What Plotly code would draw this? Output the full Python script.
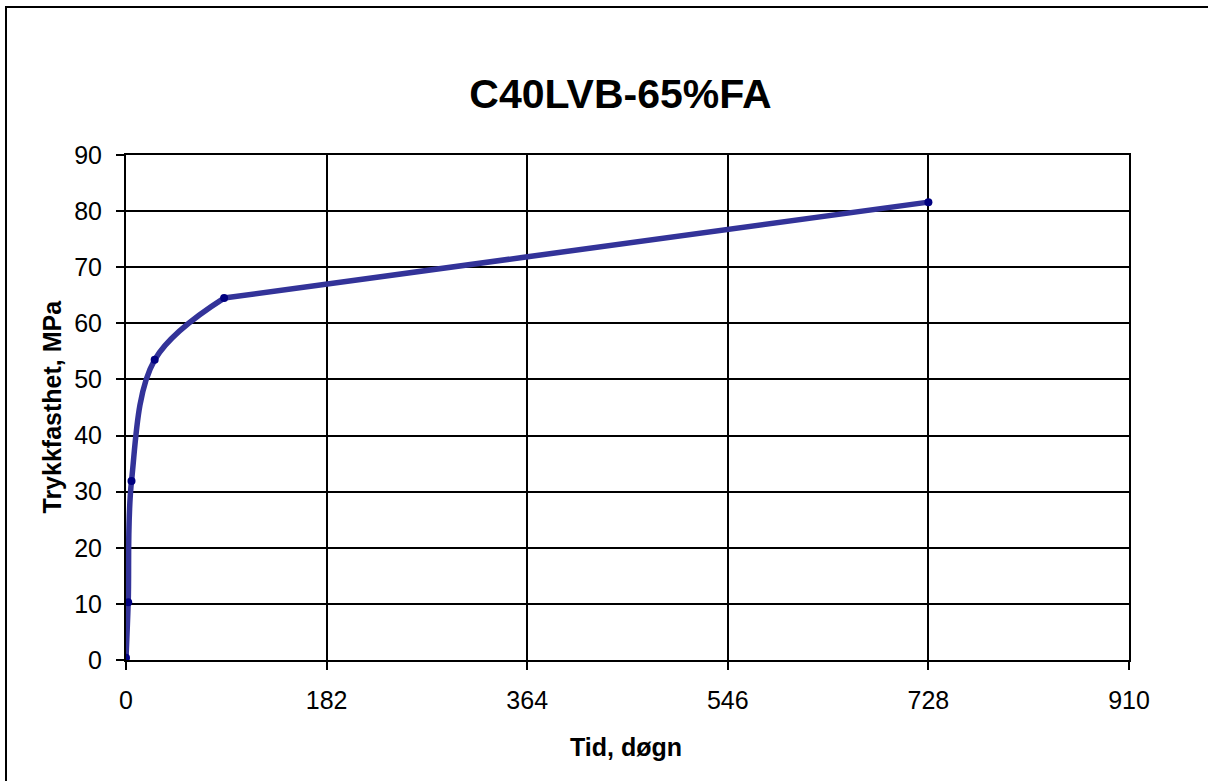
import plotly.graph_objects as go

# Data
days = [0, 2, 5, 26, 89, 728]            # Tid, døgn
strength = [0.4, 10.3, 31.9, 53.5, 64.5, 81.6]  # Trykkfasthet, MPa
x_ticks = [0, 182, 364, 546, 728, 910]
y_ticks = [0, 10, 20, 30, 40, 50, 60, 70, 80, 90]

title_text = "C40LVB-65%FA"
x_title = "Tid, døgn"
y_title = "Trykkfasthet, MPa"

W, H = 1208, 781
L, R, T, B = 126, 79, 155, 121
FONT = "Liberation Sans, Arial, sans-serif"
LINE_COLOR = "#333399"

fig = go.Figure()
# early-age part: smoothed curve
fig.add_trace(go.Scatter(
    x=days[:5], y=strength[:5], mode="lines",
    line=dict(color=LINE_COLOR, width=5.5, shape="spline", smoothing=1.0),
    showlegend=False, hoverinfo="skip",
))
# long-term part
fig.add_trace(go.Scatter(
    x=days[4:], y=strength[4:], mode="lines",
    line=dict(color=LINE_COLOR, width=5.5, shape="spline", smoothing=0.4),
    showlegend=False, hoverinfo="skip",
))
# measured points
fig.add_trace(go.Scatter(
    x=days, y=strength, mode="markers",
    marker=dict(color="#000080", size=8),
    showlegend=False, hoverinfo="x+y",
))

def px_to_paper_x(px):
    return (px - L) / (W - L - R)

def px_to_paper_y(py):
    return (H - B - py) / (H - T - B)

axis_common = dict(
    showline=True, linecolor="black", linewidth=2, mirror=True,
    showgrid=True, gridcolor="black", gridwidth=2,
    ticks="outside", ticklen=8, tickwidth=2, tickcolor="black",
    tickfont=dict(family=FONT, size=25, color="black"),
    zeroline=False, fixedrange=True,
)

fig.update_layout(
    width=W, height=H,
    margin=dict(l=L, r=R, t=T, b=B),
    paper_bgcolor="white", plot_bgcolor="white",
    font=dict(family=FONT, color="black"),
    title=dict(text="<b>%s</b>" % title_text, font=dict(family=FONT, size=41, color="black"),
               x=620.5 / W, xref="container", xanchor="center",
               y=1 - 94 / H, yref="container", yanchor="middle"),
    xaxis=dict(range=[0, 910], tickvals=x_ticks, ticktext=[str(v) for v in x_ticks],
               ticklabelstandoff=9, **axis_common),
    yaxis=dict(range=[0, 90], tickvals=y_ticks, ticktext=[str(v) for v in y_ticks],
               ticklabelstandoff=9, **axis_common),
    annotations=[
        dict(text="<b>%s</b>" % x_title, xref="paper", yref="paper",
             x=px_to_paper_x(626), y=px_to_paper_y(747), xanchor="center", yanchor="middle",
             showarrow=False, font=dict(family=FONT, size=25, color="black")),
        dict(text="<b>%s</b>" % y_title, xref="paper", yref="paper",
             x=px_to_paper_x(51), y=px_to_paper_y(406.5), xanchor="center", yanchor="middle",
             textangle=-90, showarrow=False, font=dict(family=FONT, size=25, color="black")),
    ],
    shapes=[
        dict(type="rect", xref="paper", yref="paper",
             x0=px_to_paper_x(6), x1=px_to_paper_x(1220),
             y0=px_to_paper_y(795), y1=px_to_paper_y(7),
             line=dict(color="black", width=2), fillcolor="rgba(0,0,0,0)", layer="below"),
    ],
)

fig.write_html("out.html")
